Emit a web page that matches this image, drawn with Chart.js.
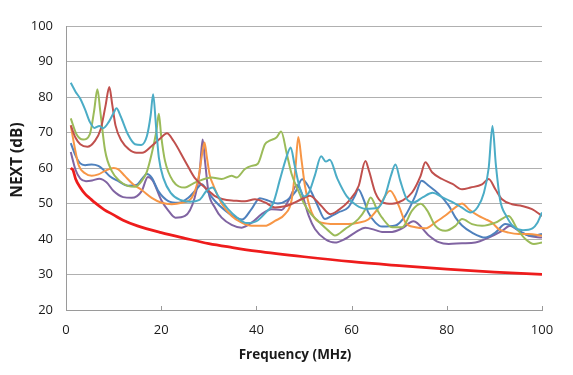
<!doctype html>
<html>
<head>
  <meta charset="utf-8">
  <title>NEXT vs Frequency</title>
  <script src="https://cdn.jsdelivr.net/npm/chart.js"></script>
  <style>
    html, body { margin: 0; padding: 0; background: #fff; }
  </style>
</head>
<body>
  <canvas id="chart" width="573" height="375"></canvas>
  <script>
    // tick values
    const xTicks = [0, 20, 40, 60, 80, 100];
    const yTicks = [20, 30, 40, 50, 60, 70, 80, 90, 100];
    const xTitle = 'Frequency (MHz)';
    const yTitle = 'NEXT (dB)';

    // limit line (red)
    const limitF = [1, 1.5, 2, 3, 4, 5, 6, 8, 10, 12, 15, 20, 25, 30, 35, 40, 50, 60, 70, 80, 90, 100];
    const limitV = [60, 59.3, 57, 54.5, 52.7, 51.5, 50.3, 48.3, 46.8, 45.3, 43.7, 41.8, 40.2, 38.7, 37.6, 36.6, 35, 33.6, 32.5, 31.5, 30.7, 30];

    // cyan pair
    const cyanF = [1, 2, 3, 4, 5, 6, 7, 7.8, 9, 10, 10.6, 11.5, 13, 14.5, 15.8, 17, 17.8, 18.3, 18.9, 19.5,
      20.5, 22, 24, 26, 28, 29.5, 30.8, 32, 34, 36, 38, 40, 42, 43.5, 45, 46.3, 47.2, 48, 49, 50,
      51, 52.3, 53.6, 54.6, 55.4, 57, 59, 61, 63, 65.5, 67, 68.3, 69.2, 70.2, 71.5, 73, 75, 77, 79, 81,
      83, 85, 86.5, 87.8, 88.8, 89.6, 90.3, 91.2, 92.5, 94, 96, 98, 99, 100];
    const cyanV = [84, 81.5, 79.5, 76.5, 73, 71.3, 71.8, 71.2, 73, 75.5, 76.8, 74.5, 69.5, 66.7, 66.5, 69, 75, 80.8, 72, 63,
      57, 53, 51, 50.5, 51, 53.5, 54.5, 52, 48.5, 46, 44.5, 45, 47.5, 50, 57, 63, 65.8, 61, 55, 52,
      53, 58, 63.3, 61.8, 62.3, 57, 52, 49.5, 48.5, 48.8, 52, 58, 61, 56.5, 51.5, 50.3, 51.8, 53, 51.8, 50.5,
      49, 47.5, 49, 53, 60, 71.8, 61, 51, 46.5, 43.5, 42.5, 43, 44.5, 47.5];

    // dark red pair
    const redF = [1, 2, 3, 4.5, 6, 7.3, 8.3, 9.1, 9.7, 10.4, 11.7, 13.2, 14.8, 16, 18, 19.8, 21.2, 22.6, 25, 27,
      29.2, 31.3, 33, 35.5, 37.6, 39.7, 41.8, 43.9, 46, 48.1, 50.2, 51.2, 53.5, 55.5, 57.3, 59.3, 61.5, 62.9, 63.7, 65,
      66.5, 68.5, 70.6, 72.7, 74.5, 75.5, 76.9, 79, 81.2, 83.2, 85, 87.4, 88.8, 90.2, 91.6, 93.7, 95.8, 97.9, 100];
    const redV = [72, 68.5, 66.7, 66, 67.5, 71, 77.5, 82.8, 78, 72, 67.6, 65.3, 64.3, 64.3, 66.2, 68.3, 69.8, 67.6, 62, 57.3,
      54.5, 52.1, 51.2, 50.8, 50.6, 51.2, 50.3, 48.9, 49.2, 50.3, 51.7, 52.2, 49.5, 47, 48.2, 50.5, 55, 62, 59, 53,
      50.3, 49.9, 50.8, 53.1, 57.8, 61.6, 58.8, 56.9, 55.5, 54, 54.5, 55.4, 56.9, 54, 51.2, 49.8, 49.3, 48.4, 46.5];

    // green pair
    const greenF = [1, 2.2, 3.6, 5, 5.9, 6.6, 7.2, 8.2, 9.6, 11.3, 13.1, 14.5, 15.9, 17, 18, 19, 19.5, 20, 20.8, 22.5,
      25, 26.4, 27.8, 30.6, 32.7, 34.8, 35.8, 37.6, 39, 40.3, 41.8, 42.8, 44.2, 45.2, 46.4, 47.4, 48.8, 50, 51.5, 53,
      55, 56.5, 58.6, 61.4, 62.9, 64, 65.3, 66.4, 68.5, 70.6, 72.7, 74.5, 75.9, 77.6, 79.7, 81.8, 83.2, 85.3, 87.4, 90.2,
      93, 94.8, 96.5, 98.3, 100];
    const greenV = [74, 69.5, 68, 69.5, 76, 82.2, 76, 65, 59.2, 56.3, 54.9, 54.7, 56.3, 59, 64, 70.5, 75.3, 69, 62, 56.3,
      54.5, 55.4, 56.3, 57.3, 56.9, 57.8, 57.3, 59.7, 60.6, 61.2, 66.7, 67.7, 68.6, 70.3, 63.9, 58.3, 53.6, 50, 47, 45,
      42.5, 41, 42.8, 45.6, 48.4, 51.7, 48.4, 46, 43.3, 43.3, 48, 49.9, 48, 43.7, 42.3, 43.7, 45.6, 44.2, 43.7, 44.6,
      46.5, 42.8, 40, 38.6, 39];

    // blue pair
    const blueF = [1, 2, 3, 4, 5.4, 6.8, 7.8, 9.2, 11, 13, 14.8, 16, 17, 18, 19.4, 21.5, 23.6, 25.7, 27.4, 28.5,
      29.9, 31.3, 33, 35, 37, 39, 40.7, 42.5, 44.5, 46.5, 48.3, 49.6, 50.6, 51.6, 52.9, 54.4, 55.8, 57.2, 59.3, 60.7,
      61.4, 62.5, 63.5, 65, 66.4, 69.2, 71.3, 73.4, 74.7, 76.2, 78.3, 80.4, 81.8, 83.2, 85.3, 88.1, 90.2, 92.3, 93.7, 95.8,
      97.9, 100];
    const blueV = [67, 63.5, 61.3, 60.8, 61, 60.6, 59.6, 57.7, 56.3, 55, 55.2, 57, 58.3, 57.3, 53.5, 50.7, 50.2, 51.6, 54, 55.4,
      53.1, 50.7, 48.5, 46.5, 45.5, 48.5, 51.5, 50.8, 50, 51, 53.5, 56.8, 55.5, 53.1, 49.3, 45.6, 46.5, 47.5, 48.9, 52.2,
      54, 51.2, 47.5, 44.6, 43.5, 43.8, 46.6, 52.2, 56.4, 55, 52.7, 49.4, 46.1, 43.8, 41.8, 40.4, 41.8, 44.2, 43.7, 41.8,
      40.9, 41.4];

    // purple pair
    const purpleF = [1, 2, 3, 4.2, 5.5, 7, 8.5, 10, 12, 13.8, 15.9, 17.2, 18.2, 20, 21.5, 23, 25, 27, 28.1, 28.7,
      29.2, 29.9, 31.3, 32.7, 34.8, 36.9, 39, 41.1, 43.2, 45.3, 47, 48.5, 49.5, 51, 52.3, 54.4, 56.5, 58.6, 60.7, 62.9,
      65, 66.4, 68.5, 70.6, 73, 76.2, 78.3, 80.4, 83.2, 86, 88.8, 91.6, 93.3, 95.1, 97.2, 100];
    const purpleV = [64.5, 59.5, 57, 56.3, 56.5, 57, 56, 53.5, 51.8, 51.6, 53.5, 57.5, 56.5, 51, 48, 46, 46.5, 51.5, 59.2, 68,
      62, 53.5, 48.8, 46, 44, 43.2, 44.6, 47, 48.4, 48.2, 51.5, 55.2, 53, 46.5, 42.8, 40, 39, 40, 41.8, 43.2,
      42.5, 42, 42, 43, 45, 41, 39.1, 38.6, 38.8, 39, 40.4, 42.3, 43.7, 42.3, 40.9, 40.4];

    // orange pair
    const orangeF = [1, 1.8, 2.6, 4, 5.4, 6.8, 8.2, 10, 11, 12.4, 14.1, 15.9, 18, 20.1, 22.2, 24.3, 26.4, 27.8, 28.6, 29.1,
      29.6, 30.2, 31, 32.7, 34.8, 36.9, 39, 41.8, 43.9, 46, 47.4, 48.2, 48.8, 49.5, 50.2, 51.6, 53.7, 56.5, 59.3, 61.4,
      63.5, 65.5, 68.1, 69.9, 71.3, 73.4, 75.5, 77.6, 79.7, 81.8, 83.2, 84.6, 86.7, 88.1, 89.5, 90.9, 93, 95.1, 97.2, 100];
    const orangeV = [72, 66, 61, 58.5, 57.8, 58.2, 59.2, 60, 59.6, 57.7, 55.4, 53.8, 51.6, 50.2, 49.8, 50.2, 51.6, 57, 64, 67.2,
      63, 58, 55, 50, 46.5, 44.6, 43.7, 43.7, 45.1, 47, 51, 60, 68.7, 62, 55, 47.5, 44.6, 44.2, 44.2, 44.6,
      45.5, 48.5, 53.6, 49.4, 44.7, 43.3, 43, 44.7, 46.6, 48.9, 50, 48.4, 46.5, 45.6, 44.6, 42.8, 41.8, 41.4, 41.4, 40.9];

    function pts(fs, vs) {
      return fs.map((f, i) => ({ x: f, y: vs[i] }));
    }

    function series(fs, vs, color, width) {
      return {
        data: pts(fs, vs),
        borderColor: color,
        borderWidth: width,
        pointRadius: 0,
        fill: false,
        cubicInterpolationMode: 'monotone'
      };
    }

    const tickFont = { family: 'Open Sans', size: 13 };

    // inward tick marks on the x axis and the two axis titles
    const extras = {
      id: 'extras',
      afterDraw(chart) {
        const xs = chart.scales.x;
        const ctx = chart.ctx;
        const bottom = chart.chartArea.bottom;
        ctx.save();
        ctx.strokeStyle = '#9a9a9a';
        ctx.lineWidth = 1;
        xTicks.forEach(t => {
          if (t === 0) return;
          const px = Math.round(xs.getPixelForValue(t)) + 0.5;
          ctx.beginPath();
          ctx.moveTo(px, bottom);
          ctx.lineTo(px, bottom - 4);
          ctx.stroke();
        });

        ctx.fillStyle = '#1a1a1a';
        ctx.textAlign = 'center';
        ctx.textBaseline = 'middle';
        ctx.font = 'bold 13.5px "Open Sans"';
        ctx.fillText(xTitle, 295, 355);

        ctx.translate(18, 160);
        ctx.rotate(-Math.PI / 2);
        ctx.font = 'bold 15.5px "Open Sans"';
        ctx.fillText(yTitle, 0, 0);
        ctx.restore();
      }
    };

    new Chart(document.getElementById('chart'), {
      type: 'line',
      data: {
        datasets: [
          series(limitF, limitV, '#ee1c1c', 2.75),
          series(cyanF, cyanV, '#4bacc6', 2),
          series(redF, redV, '#c0504d', 2),
          series(greenF, greenV, '#9bbb59', 2),
          series(orangeF, orangeV, '#f79646', 2),
          series(blueF, blueV, '#4f81bd', 2),
          series(purpleF, purpleV, '#8064a2', 2)
        ]
      },
      options: {
        responsive: false,
        animation: false,
        layout: { padding: { top: 26, right: 31, left: 0, bottom: 0 } },
        plugins: { legend: { display: false }, tooltip: { enabled: false } },
        scales: {
          x: {
            type: 'linear',
            min: 0,
            max: 100,
            afterBuildTicks: s => { s.ticks = xTicks.map(v => ({ value: v })); },
            afterFit: s => { s.height = 65; },
            ticks: { padding: 12, font: tickFont, color: '#1a1a1a', maxRotation: 0 },
            grid: { display: false, drawTicks: false },
            border: { color: '#9a9a9a' }
          },
          y: {
            min: 20,
            max: 100,
            afterBuildTicks: s => { s.ticks = yTicks.map(v => ({ value: v })); },
            afterFit: s => { s.width = 66; },
            ticks: { padding: 13, font: tickFont, color: '#1a1a1a' },
            grid: { color: '#b0b0b0', drawTicks: false },
            border: { color: '#9a9a9a' }
          }
        }
      },
      plugins: [extras]
    });
  </script>
</body>
</html>
